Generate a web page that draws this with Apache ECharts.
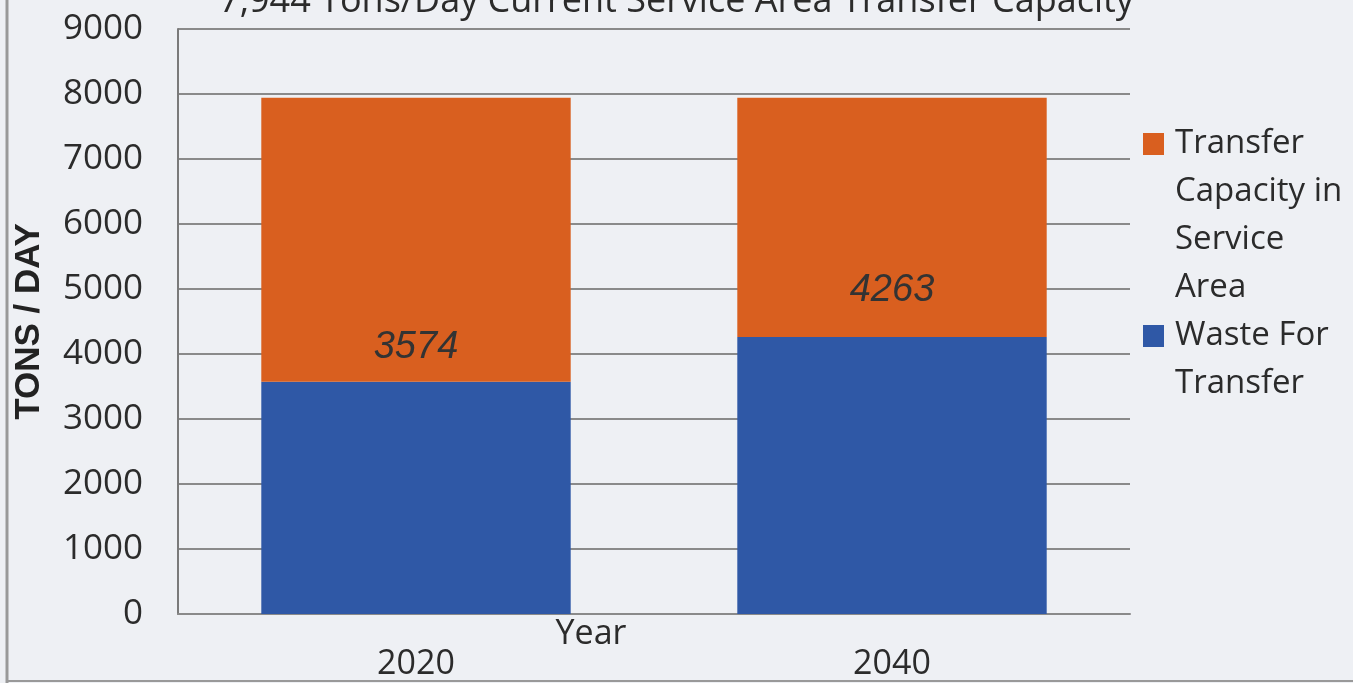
<!DOCTYPE html>
<html>
<head>
<meta charset="utf-8">
<script src="https://cdn.jsdelivr.net/npm/echarts@6/dist/echarts.min.js"></script>
<style>
  html, body { margin: 0; padding: 0; background: #eef0f4; }
  #chart { width: 1353px; height: 683px; }
</style>
</head>
<body>
<div id="chart"></div>
<script>
const years = ['2020', '2040']
const wasteForTransfer = [3574, 4263]
// remaining capacity up to 7,944 tons/day
const transferCapacity = [4370, 3681]
const yTicks = [0, 1000, 2000, 3000, 4000, 5000, 6000, 7000, 8000, 9000]

const FONT = '"Open Sans", Lato, sans-serif'
const myChart = echarts.init(document.getElementById('chart'))

const capName = 'Transfer Capacity in Service Area'
const wasteName = 'Waste For Transfer'
const legendNames = {
  [capName]: 'Transfer\nCapacity in\nService\nArea',
  [wasteName]: 'Waste For\nTransfer'
}

// label offsets above the blue bars
const labelDist = [15, 27]

// square icon sitting on the first text line of a tall legend item
const legendIcon = h => 'path://M0,0L27,0M0,13L21,13L21,35L0,35ZM0,' + h + 'L27,' + h

const legendBase = {
  orient: 'vertical',
  left: 1138,
  itemWidth: 27,
  itemGap: 0,
  selectedMode: false,
  formatter: name => legendNames[name],
  textStyle: { fontFamily: FONT, fontSize: 33, color: '#2b2b2b', lineHeight: 48 }
}

const option = {
  backgroundColor: '#eef0f4',
  animation: false,
  title: {
    text: '7,944 Tons/Day Current Service Area Transfer Capacity',
    left: 'center',
    top: -21,
    textStyle: { fontFamily: FONT, fontSize: 36, fontWeight: 'normal', color: '#2b2b2b' }
  },
  legend: [
    Object.assign({}, legendBase, { top: 115, itemHeight: 192, icon: legendIcon(192), data: [capName] }),
    Object.assign({}, legendBase, { top: 307, itemHeight: 96, icon: legendIcon(96), data: [wasteName] })
  ],
  grid: { left: 178, right: 223, top: 29, bottom: 69, outerBoundsMode: 'none' },
  xAxis: {
    type: 'category',
    data: years,
    name: 'Year',
    nameLocation: 'middle',
    nameGap: 3,
    nameMoveOverlap: false,
    nameTextStyle: { fontFamily: FONT, fontSize: 34, color: '#2b2b2b', padding: [0, 126, 0, 0] },
    axisLine: { lineStyle: { color: '#8a8a8a', width: 2 } },
    axisTick: { show: false },
    axisLabel: { fontFamily: FONT, fontSize: 34, color: '#2b2b2b', margin: 33 }
  },
  yAxis: {
    type: 'value',
    min: yTicks[0],
    max: yTicks[yTicks.length - 1],
    interval: 1000,
    name: 'TONS / DAY',
    nameLocation: 'middle',
    nameGap: 131,
    nameMoveOverlap: false,
    nameTextStyle: { fontFamily: '"Liberation Sans", Arial, sans-serif', fontSize: 35, fontWeight: 'bold', color: '#222' },
    axisLine: { show: true, lineStyle: { color: '#7a7a7a', width: 2 } },
    axisTick: { show: false },
    axisLabel: { fontFamily: FONT, fontSize: 35, color: '#2b2b2b', margin: 35, formatter: v => String(v) },
    splitLine: { lineStyle: { color: '#8a8a8a', width: 2 } }
  },
  series: [
    {
      name: wasteName,
      type: 'bar',
      stack: 'total',
      barWidth: '65%',
      itemStyle: { color: '#2f58a6' },
      data: wasteForTransfer.map((v, i) => ({
        value: v,
        label: {
          show: true,
          position: 'top',
          distance: labelDist[i],
          fontFamily: '"Liberation Sans", Arial, sans-serif',
          fontStyle: 'italic',
          fontSize: 38,
          color: '#333'
        }
      }))
    },
    {
      name: capName,
      type: 'bar',
      stack: 'total',
      barWidth: '65%',
      itemStyle: { color: '#d95f1f' },
      data: transferCapacity
    }
  ],
  graphic: [
    { type: 'line', shape: { x1: 7, y1: 0, x2: 7, y2: 683 }, style: { stroke: '#999', lineWidth: 3 } },
    { type: 'line', shape: { x1: 7, y1: 681, x2: 1353, y2: 681 }, style: { stroke: '#999', lineWidth: 2 } }
  ]
}

myChart.setOption(option)
window.addEventListener('resize', () => myChart.resize())
</script>
</body>
</html>
